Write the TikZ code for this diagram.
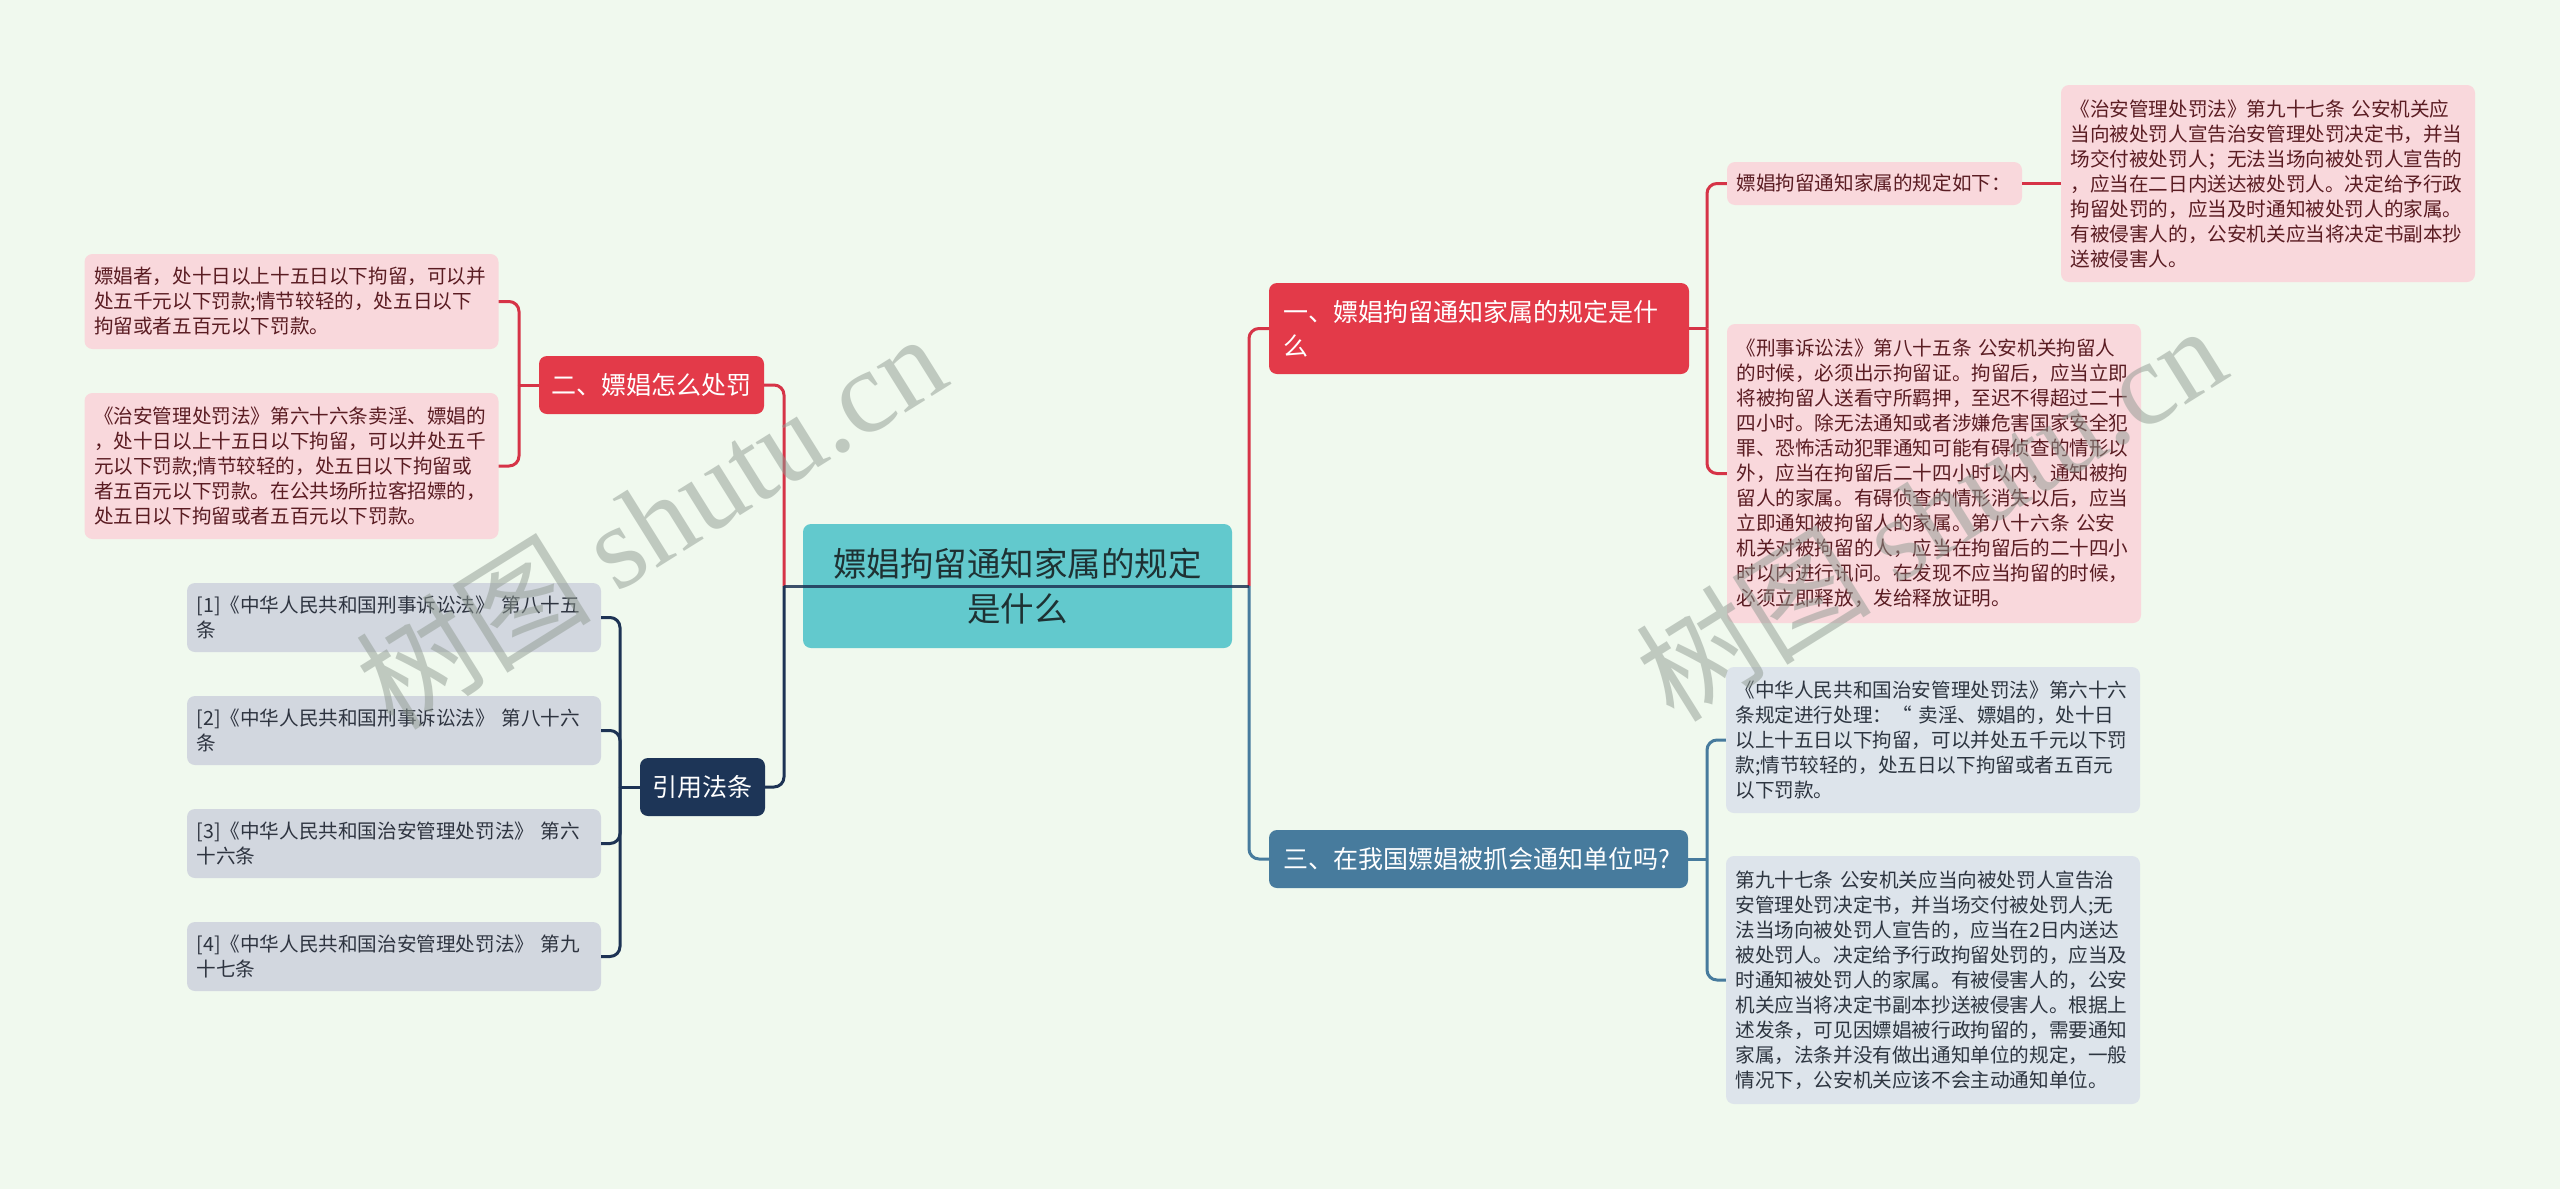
\documentclass[tikz,border=0pt]{standalone}
\usepackage{fontspec}
\setmainfont{Noto Sans CJK SC}
\newfontfamily\wmserif{Liberation Serif}
\definecolor{bgc}{HTML}{F0F9EE}
\definecolor{redfill}{HTML}{E33A49}
\definecolor{redline}{HTML}{D63447}
\definecolor{pinkfill}{HTML}{F9D8DC}
\definecolor{pinktext}{HTML}{5A1C22}
\definecolor{tealfill}{HTML}{62C9CD}
\definecolor{roottext}{HTML}{1E3133}
\definecolor{navyfill}{HTML}{1D3557}
\definecolor{navyline}{HTML}{1D3354}
\definecolor{reffill}{HTML}{D2D7DF}
\definecolor{reftext}{HTML}{2E3440}
\definecolor{bluefill}{HTML}{477B9D}
\definecolor{blueline}{HTML}{477B9D}
\definecolor{grayfill}{HTML}{DDE4EB}
\definecolor{graytext}{HTML}{2D3540}
\definecolor{wmgray}{HTML}{8F9A91}
\tikzset{
  box/.style={rounded corners=8pt, inner ysep=0pt, anchor=center},
  smalltext/.style={font=\fontsize{19.6}{25}\selectfont},
  leafpink/.style={box, smalltext, fill=pinkfill, text=pinktext, text width=395pt, inner xsep=9.5pt, align=left},
  leafgray/.style={box, smalltext, fill=grayfill, text=graytext, text width=395pt, inner xsep=9.5pt, align=left},
  refbox/.style={box, smalltext, fill=reffill, text=reftext, text width=395pt, inner xsep=9.5pt, align=left, minimum height=69pt},
  lvone/.style={box, text=white, font=\fontsize{25}{34}\selectfont},
  conn/.style={line width=3pt, rounded corners=10pt},
  wm/.style={text=wmgray, opacity=0.5, font=\fontsize{118}{118}\selectfont, rotate=32}
}
\begin{document}
\begin{tikzpicture}[x=1pt,y=-1pt]
\fill[bgc] (0,0) rectangle (2560,1189);
\useasboundingbox (0,0) rectangle (2560,1189);

% root
\node[box, fill=tealfill, text=roottext, minimum width=429pt, minimum height=124pt, align=center, font=\fontsize{33.5}{45}\selectfont] (root) at (1017.5,586) {嫖娼拘留通知家属的规定\\是什么};

% level one
\node[lvone, fill=redfill, minimum width=225pt, minimum height=58pt, inner xsep=0pt] (n2) at (651.5,385) {二、嫖娼怎么处罚};
\node[lvone, fill=navyfill, minimum width=125pt, minimum height=58pt, inner xsep=0pt] (nr) at (702.5,787) {引用法条};
\node[lvone, fill=redfill, text width=392pt, inner xsep=14pt, align=left, minimum height=91pt] (n1) at (1479,328.5) {一、嫖娼拘留通知家属的规定是什\\么};
\node[lvone, fill=bluefill, text width=391pt, inner xsep=14pt, align=left, minimum height=58pt] (n3) at (1478.5,859) {三、在我国嫖娼被抓会通知单位吗?};

% left leaves
\node[leafpink, minimum height=95pt] (l1) at (291.5,301.5) {嫖娼者，处十日以上十五日以下拘留，可以并\\处五千元以下罚款;情节较轻的，处五日以下\\拘留或者五百元以下罚款。};
\node[leafpink, minimum height=146pt] (l2) at (291.5,466) {《治安管理处罚法》第六十六条卖淫、嫖娼的\\，处十日以上十五日以下拘留，可以并处五千\\元以下罚款;情节较轻的，处五日以下拘留或\\者五百元以下罚款。在公共场所拉客招嫖的，\\处五日以下拘留或者五百元以下罚款。};

\node[refbox] (r1) at (394,617.5) {[1]《中华人民共和国刑事诉讼法》~第八十五\\条};
\node[refbox] (r2) at (394,730.5) {[2]《中华人民共和国刑事诉讼法》~第八十六\\条};
\node[refbox] (r3) at (394,843.5) {[3]《中华人民共和国治安管理处罚法》~第六\\十六条};
\node[refbox] (r4) at (394,956.5) {[4]《中华人民共和国治安管理处罚法》~第九\\十七条};

% right leaves
\node[leafpink, text width=276pt, minimum height=43pt] (rx) at (1874.5,183.5) {嫖娼拘留通知家属的规定如下：};
\node[leafpink, minimum height=197pt] (za) at (2268,183.5) {《治安管理处罚法》第九十七条~公安机关应\\当向被处罚人宣告治安管理处罚决定书，并当\\场交付被处罚人；无法当场向被处罚人宣告的\\，应当在二日内送达被处罚人。决定给予行政\\拘留处罚的，应当及时通知被处罚人的家属。\\有被侵害人的，公安机关应当将决定书副本抄\\送被侵害人。};
\node[leafpink, minimum height=299pt] (xs) at (1934,473.5) {《刑事诉讼法》第八十五条~公安机关拘留人\\的时候，必须出示拘留证。拘留后，应当立即\\将被拘留人送看守所羁押，至迟不得超过二十\\四小时。除无法通知或者涉嫌危害国家安全犯\\罪、恐怖活动犯罪通知可能有碍侦查的情形以\\外，应当在拘留后二十四小时以内，通知被拘\\留人的家属。有碍侦查的情形消失以后，应当\\立即通知被拘留人的家属。第八十六条~公安\\机关对被拘留的人，应当在拘留后的二十四小\\时以内进行讯问。在发现不应当拘留的时候，\\必须立即释放，发给释放证明。};
\node[leafgray, minimum height=146pt] (zh) at (1933,740) {《中华人民共和国治安管理处罚法》第六十六\\条规定进行处理：“~卖淫、嫖娼的，处十日\\以上十五日以下拘留，可以并处五千元以下罚\\款;情节较轻的，处五日以下拘留或者五百元\\以下罚款。};
\node[leafgray, minimum height=248pt] (d97) at (1933,980) {第九十七条~公安机关应当向被处罚人宣告治\\安管理处罚决定书，并当场交付被处罚人;无\\法当场向被处罚人宣告的，应当在2日内送达\\被处罚人。决定给予行政拘留处罚的，应当及\\时通知被处罚人的家属。有被侵害人的，公安\\机关应当将决定书副本抄送被侵害人。根据上\\述发条，可见因嫖娼被行政拘留的，需要通知\\家属，法条并没有做出通知单位的规定，一般\\情况下，公安机关应该不会主动通知单位。};

% junctions
\coordinate (jl) at (784,586);
\coordinate (jr) at (1249,586);
\coordinate (cL2) at (519,385);
\coordinate (cLR) at (620,787);
\coordinate (cR1) at (1707,328.5);
\coordinate (cR3) at (1707,859);

% connectors
\draw[conn, redline] (jl) |- (n2.east);
\draw[conn, navyline] (jl) |- (nr.east);
\draw[conn, redline] (jr) |- (n1.west);
\draw[conn, blueline] (jr) |- (n3.west);
\draw[conn, navyline, opacity=0.85] (jl) -- (jr);

\draw[conn, redline] (n2.west) -- (cL2);
\draw[conn, redline] (cL2) |- (l1.east);
\draw[conn, redline] (cL2) |- (l2.east);

\draw[conn, navyline] (nr.west) -- (cLR);
\draw[conn, navyline] (cLR) |- (r1.east);
\draw[conn, navyline] (cLR) |- (r2.east);
\draw[conn, navyline] (cLR) |- (r3.east);
\draw[conn, navyline] (cLR) |- (r4.east);

\draw[conn, redline] (n1.east) -- (cR1);
\draw[conn, redline] (cR1) |- (rx.west);
\draw[conn, redline] (cR1) |- (xs.west);
\draw[conn, redline] (rx.east) -- (za.west);

\draw[conn, blueline] (n3.east) -- (cR3);
\draw[conn, blueline] (cR3) |- (zh.west);
\draw[conn, blueline] (cR3) |- (d97.west);

% watermarks
\node[wm] (wm1) at (650,520) {树图~{\wmserif shutu.cn}};
\node[wm] (wm2) at (1930,512) {树图~{\wmserif shutu.cn}};
\end{tikzpicture}
\end{document}
